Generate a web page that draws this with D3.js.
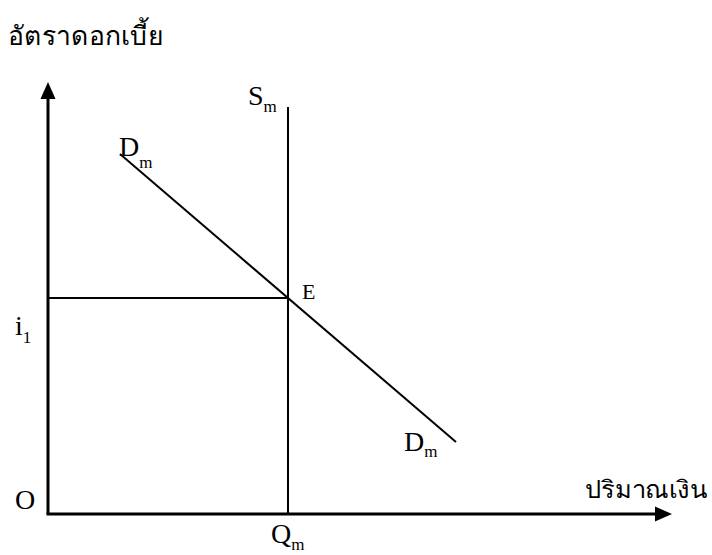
<!DOCTYPE html>
<html><head><meta charset="utf-8">
<script src="https://cdn.jsdelivr.net/npm/d3@7"></script>
<style>
html,body{margin:0;padding:0;background:#fff;}
svg{display:block;}
</style></head>
<body><svg id="c" width="712" height="555"></svg>
<script>
// Data (in chart units)
const axisMax = {q: 13, i: 9};
const demand = [{q: 1.5, i: 7.5}, {q: 8.5, i: 1.5}];
const supply = [{q: 5, i: 0}, {q: 5, i: 8.48}];
const equilibrium = {q: 5, i: 4.5};
const yTitle = "อัตราดอกเบี้ย";
const xTitle = "ปริมาณเงิน";

const SERIF = "Liberation Serif";
const THAI = "Liberation Serif";

const svg = d3.select("#c");
const x = d3.scaleLinear().domain([0, axisMax.q]).range([48, 672]);
const y = d3.scaleLinear().domain([0, axisMax.i]).range([514, 82]);

const line = d3.line().x(d => x(d.q)).y(d => y(d.i));

// i1 horizontal line
svg.append("path").attr("d", line([{q: 0, i: equilibrium.i}, equilibrium]))
  .attr("stroke", "#000").attr("stroke-width", 2).attr("fill", "none");
// supply
svg.append("path").attr("d", line(supply))
  .attr("stroke", "#000").attr("stroke-width", 2).attr("fill", "none");
// demand
svg.append("path").attr("d", line(demand))
  .attr("stroke", "#000").attr("stroke-width", 2).attr("fill", "none");

// axes
svg.append("path").attr("d", line([{q: 0, i: 0}, {q: 0, i: axisMax.i - 0.3}]))
  .attr("stroke", "#000").attr("stroke-width", 3).attr("fill", "none");
svg.append("path").attr("d", line([{q: 0, i: 0}, {q: axisMax.q - 0.3, i: 0}]))
  .attr("stroke", "#000").attr("stroke-width", 3).attr("fill", "none").attr("stroke-linecap", "square");
// arrowheads
const x0 = x(0), y0 = y(0), yt = y(axisMax.i), xt = x(axisMax.q);
svg.append("path").attr("d", `M${x0},${yt} L${x0 - 7.5},${yt + 17} L${x0 + 7.5},${yt + 17} Z`).attr("fill", "#000");
svg.append("path").attr("d", `M${xt},${y0} L${xt - 17},${y0 - 7.5} L${xt - 17},${y0 + 7.5} Z`).attr("fill", "#000");

// labels
function sub(tx, ty, main, s, size, subSize, dx, dy) {
  const t = svg.append("text").attr("x", tx).attr("y", ty)
    .attr("font-family", SERIF).attr("font-size", size).attr("fill", "#000");
  t.append("tspan").text(main);
  if (s) t.append("tspan").attr("dx", dx).attr("dy", dy).attr("font-size", subSize).text(s);
  return t;
}
sub(x(supply[1].q) - 40, y(supply[1].i) - 2, "S", "m", 28, 17, 0, 7);
sub(x(demand[0].q) - 1, y(demand[0].i) + 2, "D", "m", 28, 17, 0, 12);
sub(x(demand[1].q) - 52, y(demand[1].i) + 9, "D", "m", 28, 17, 0, 6);
sub(x(equilibrium.q) + 14, y(equilibrium.i) + 1, "E", null, 22);
sub(15, y(equilibrium.i) + 37, "i", "1", 28, 17, 0, 8);
sub(15, y(0) - 5, "O", null, 28);
sub(x(equilibrium.q) - 17, y(0) + 29, "Q", "m", 28, 17, 0, 7);

svg.append("text").attr("x", 8).attr("y", 45).attr("font-family", THAI).attr("font-size", 26)
  .attr("textLength", 155).attr("lengthAdjust", "spacingAndGlyphs").text(yTitle);
svg.append("text").attr("x", 585).attr("y", 498).attr("font-family", THAI).attr("font-size", 24)
  .attr("textLength", 122).attr("lengthAdjust", "spacingAndGlyphs").text(xTitle);
</script></body></html>
